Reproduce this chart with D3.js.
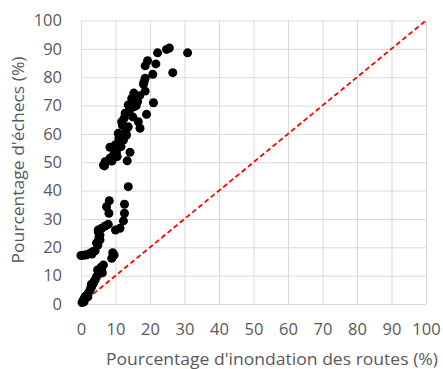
<!DOCTYPE html>
<html>
<head>
<meta charset="utf-8">
<script src="https://cdn.jsdelivr.net/npm/d3@7"></script>
<style>
  body { margin: 0; background: #fff; }
  text { font-family: "Open Sans", sans-serif; fill: #595959; }
</style>
</head>
<body>
<div id="chart"></div>
<script>
// road flooding (%) vs failures (%)
const floodPct = [
  22.2, 24.8, 25.6, 30.9, 19.3, 18.6, 21.7, 20.8, 26.6, 18.6, 18.3, 18.1, 18.6, 15.3, 15.7, 21.0,
  14.7, 16.4, 13.7, 15.5, 19.0, 12.8, 11.8, 16.6, 13.7, 17.1, 10.8, 13.2, 12.3, 10.8, 9.9, 8.4,
  11.6, 10.3, 14.2, 9.4, 8.4, 13.4, 7.0, 6.5, 14.0, 12.5, 11.0, 15.0, 13.0, 16.0, 17.0, 12.0,
  10.0, 9.0, 10.5,
  6.8, 7.4, 8.9, 13.7, 8.2, 7.4, 12.6, 8.1, 12.6, 12.3, 7.9, 7.0, 11.3, 10.0, 6.0, 5.0, 5.5,
  5.0, 5.5, 4.9, 4.1, 2.6, 1.2, 0.0, 0.5, 1.8, 3.2, 4.5, 5.2, 3.5,
  9.2, 8.9, 9.6,
  6.5, 6.0, 5.5, 4.5, 4.1, 3.6, 3.1, 2.6, 2.1, 1.2, 0.7, 5.0, 3.8, 2.8, 1.6, 0.5, 1.0, 4.8,
  6.2, 5.8, 3.0, 0.9, 2.0, 0.3
];
const failPct = [
  88.6, 89.8, 90.3, 88.6, 85.8, 84.0, 84.7, 81.0, 81.6, 79.6, 78.4, 77.6, 75.1, 74.4, 73.1, 71.0,
  72.5, 71.4, 70.2, 69.6, 66.9, 67.3, 64.3, 64.3, 62.5, 62.0, 60.2, 59.6, 57.8, 56.9, 56.1, 55.3,
  55.5, 53.7, 53.5, 52.6, 51.4, 50.5, 50.2, 49.0, 68.0, 65.5, 58.5, 66.0, 61.0, 70.0, 73.5, 63.0,
  54.5, 50.5, 52.0,
  48.7, 50.2, 50.4, 41.4, 36.4, 34.3, 35.2, 32.0, 32.0, 29.3, 28.1, 27.5, 26.7, 26.1, 26.7, 26.1, 24.3,
  25.5, 22.6, 20.8, 18.8, 17.9, 17.3, 17.1, 17.2, 17.4, 17.6, 21.5, 23.5, 18.5,
  18.1, 16.1, 17.3,
  13.8, 12.6, 11.4, 9.6, 8.5, 7.3, 6.1, 4.9, 3.8, 2.6, 1.4, 10.5, 8.0, 5.5, 3.0, 1.0, 2.0, 12.0,
  11.0, 13.0, 7.0, 0.8, 2.5, 0.5
];
const xTicks = d3.range(0, 101, 10);
const yTicks = d3.range(0, 101, 10);

const W = 443, H = 369;
const margin = { top: 20.5, right: 17, bottom: 65, left: 81 };
const width = W - margin.left - margin.right;
const height = H - margin.top - margin.bottom;

const svg = d3.select('#chart').append('svg')
  .attr('width', W)
  .attr('height', H);

const g = svg.append('g')
  .attr('transform', `translate(${margin.left}, ${margin.top})`);

const x = d3.scaleLinear().domain([0, 100]).range([0, width]);
const y = d3.scaleLinear().domain([0, 100]).range([height, 0]);

// gridlines
g.append('g')
  .call(d3.axisBottom(x).tickValues(xTicks).tickSize(-height).tickFormat(''))
  .attr('transform', `translate(0, ${height})`)
  .call(a => a.select('.domain').remove())
  .selectAll('line').attr('stroke', '#d9d9d9');
g.append('g')
  .call(d3.axisLeft(y).tickValues(yTicks).tickSize(-width).tickFormat(''))
  .call(a => a.select('.domain').remove())
  .selectAll('line').attr('stroke', '#d9d9d9');

// tick labels
const xAxis = g.append('g')
  .attr('transform', `translate(0, ${height})`)
  .call(d3.axisBottom(x).tickValues(xTicks).tickSize(0).tickPadding(19));
xAxis.select('.domain').remove();
xAxis.selectAll('text').style('font-size', '16.5px').attr('fill', '#595959');

const yAxis = g.append('g')
  .call(d3.axisLeft(y).tickValues(yTicks).tickSize(0).tickPadding(19));
yAxis.select('.domain').remove();
yAxis.selectAll('text').style('font-size', '16.5px').attr('fill', '#595959');

// 1:1 line
g.append('path')
  .datum([0, 100])
  .attr('d', d3.line().x(d => x(d)).y(d => y(d)))
  .attr('stroke', '#ff0000')
  .attr('stroke-width', 1.8)
  .attr('stroke-dasharray', '5,3')
  .attr('fill', 'none');

// points
g.selectAll('circle')
  .data(floodPct.map((v, i) => [v, failPct[i]]))
  .join('circle')
  .attr('cx', d => x(d[0]))
  .attr('cy', d => y(d[1]))
  .attr('r', 4.5)
  .attr('fill', '#000');

// axis titles
svg.append('text')
  .attr('x', 272)
  .attr('y', 365)
  .attr('text-anchor', 'middle')
  .attr('textLength', 332)
  .attr('lengthAdjust', 'spacingAndGlyphs')
  .style('font-size', '17px')
  .text("Pourcentage d'inondation des routes (%)");

svg.append('text')
  .attr('transform', `translate(24, 160) rotate(-90)`)
  .attr('text-anchor', 'middle')
  .attr('textLength', 207)
  .attr('lengthAdjust', 'spacingAndGlyphs')
  .style('font-size', '17px')
  .text("Pourcentage d'échecs (%)");
</script>
</body>
</html>
